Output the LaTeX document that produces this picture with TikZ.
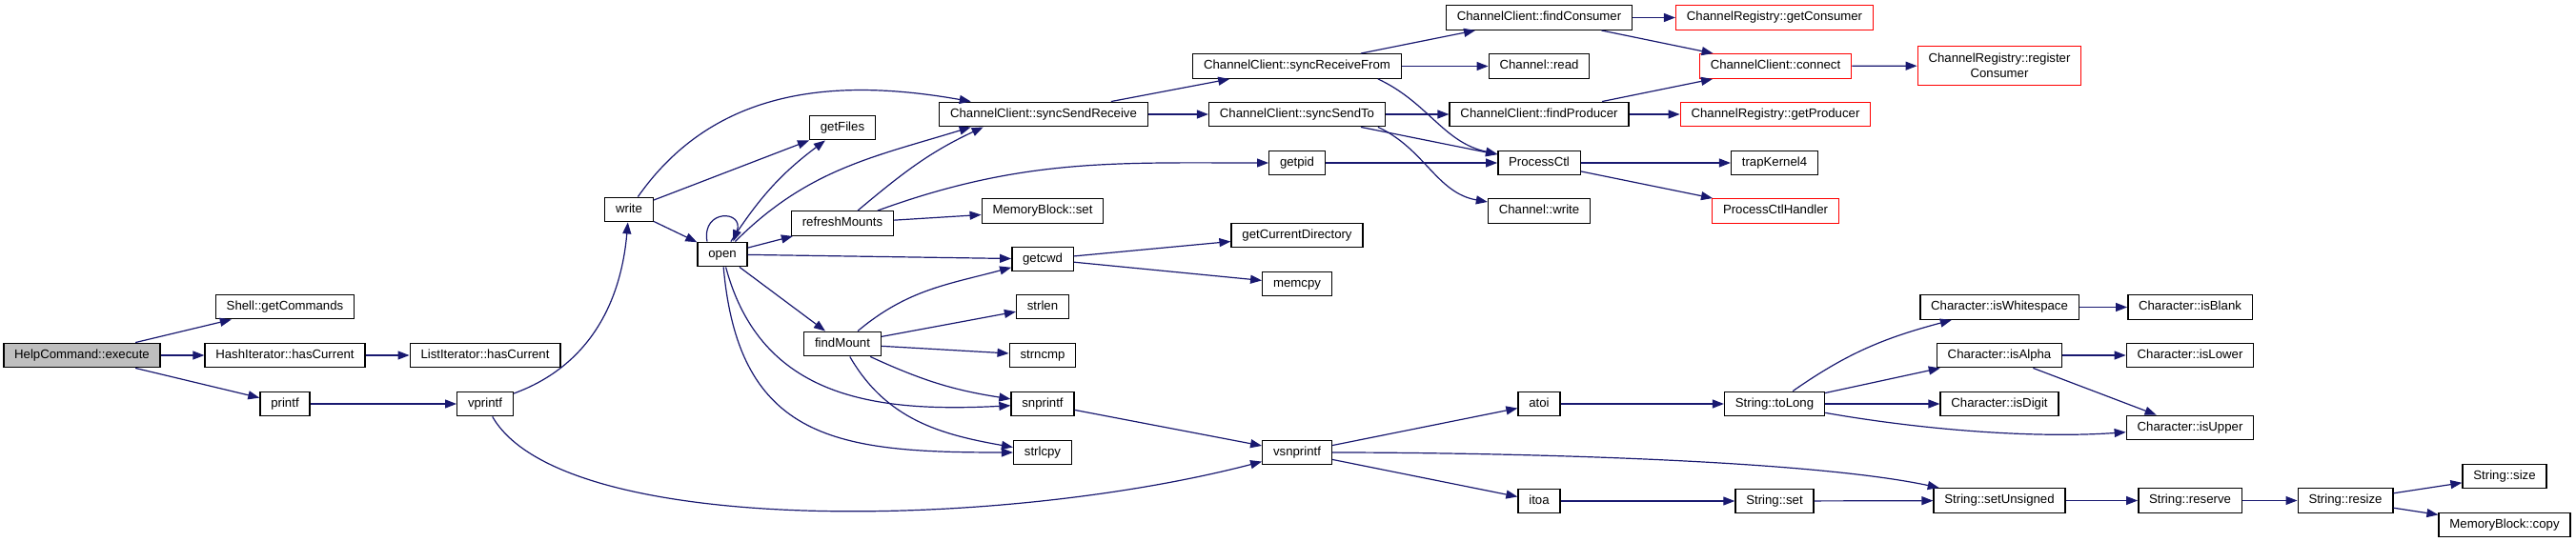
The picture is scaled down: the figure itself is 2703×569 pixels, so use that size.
\documentclass[tikz,border=0pt]{standalone}
\usepackage{fontspec}
\setmainfont{Liberation Sans}
\usetikzlibrary{arrows.meta}
\usepackage{xcolor}
\definecolor{doxyEdge}{HTML}{191970}
\definecolor{doxyRoot}{HTML}{BFBFBF}
\definecolor{doxyRed}{HTML}{FF0000}

\begin{document}
\begin{tikzpicture}[
    x=1pt, y=-1pt,
    ->, >={Triangle[length=12pt, width=9pt]},
    fn/.style={draw=black, line width=1.4pt, fill=white, minimum height=25.5pt,
        inner xsep=11.3pt, inner ysep=6pt, text height=9.5pt, text depth=2.8pt,
        font=\fontsize{13.2}{15.5}\selectfont},
    ext/.style={fn, draw=doxyRed},
    root/.style={fn, fill=doxyRoot},
    every edge/.style={draw=doxyEdge, line width=1.2pt}
]
    \useasboundingbox (0,0) rectangle (2703,569);

    % Caller and its first calls
    \node[root] (execFn) at (86,373) {HelpCommand::execute};
    \node[fn] (getCmds) at (299,322) {Shell::getCommands};
    \node[fn] (hashCur) at (299,373) {HashIterator::hasCurrent};
    \node[fn] (printfFn) at (299,424) {printf};
    \node[fn] (listCur) at (509,373) {ListIterator::hasCurrent};
    \node[fn] (vprintfFn) at (509,424) {vprintf};

    % File system calls
    \node[fn] (writeFn) at (660,220) {write};
    \node[fn] (openFn) at (758,267) {open};
    \node[fn] (getFiles) at (884,134) {getFiles};
    \node[fn] (refreshMounts) at (884,234.5) {refreshMounts};
    \node[fn] (findMount) at (884,361) {findMount};
    \node[fn] (sendRecv) at (1095,120) {ChannelClient::syncSendReceive};
    \node[fn] (memSet) at (1094,221.5) {MemoryBlock::set};
    \node[fn] (getcwdFn) at (1094,272) {getcwd};
    \node[fn] (strlenFn) at (1094,322) {strlen};
    \node[fn] (strncmpFn) at (1094,373) {strncmp};
    \node[fn] (snprintfFn) at (1094,424) {snprintf};
    \node[fn] (strlcpyFn) at (1094,475) {strlcpy};

    % Channel client and kernel
    \node[fn] (recvFrom) at (1361,69.5) {ChannelClient::syncReceiveFrom};
    \node[fn] (sendTo) at (1361,120) {ChannelClient::syncSendTo};
    \node[fn] (getpidFn) at (1361,171) {getpid};
    \node[fn] (curDir) at (1361,247) {getCurrentDirectory};
    \node[fn] (memcpyFn) at (1361,298) {memcpy};
    \node[fn] (vsnprintfFn) at (1361,475) {vsnprintf};
    \node[fn] (findCons) at (1615,18.5) {ChannelClient::findConsumer};
    \node[fn] (chRead) at (1615,69.5) {Channel::read};
    \node[fn] (findProd) at (1615,120) {ChannelClient::findProducer};
    \node[fn] (procCtl) at (1615,171) {ProcessCtl};
    \node[fn] (chWrite) at (1615,221.5) {Channel::write};
    \node[ext] (getCons) at (1862,18.5) {ChannelRegistry::getConsumer};
    \node[ext] (connectFn) at (1863,69.5) {ChannelClient::connect};
    \node[ext] (getProd) at (1863,120) {ChannelRegistry::getProducer};
    \node[fn] (trapKernel) at (1862,171) {trapKernel4};
    \node[ext] (procHandler) at (1863,221.5) {ProcessCtlHandler};
    \node[ext, align=center, text height=, text depth=, minimum height=41pt] (regCons) at (2098,69) {ChannelRegistry::register\\Consumer};

    % Number conversion and string helpers
    \node[fn] (atoiFn) at (1615,424) {atoi};
    \node[fn] (itoaFn) at (1615,526) {itoa};
    \node[fn] (toLong) at (1862,424) {String::toLong};
    \node[fn] (strSet) at (1862,526) {String::set};
    \node[fn] (isWhite) at (2098,322.5) {Character::isWhitespace};
    \node[fn] (isAlpha) at (2098,373) {Character::isAlpha};
    \node[fn] (isDigit) at (2098,424) {Character::isDigit};
    \node[fn] (setUnsigned) at (2098,525.5) {String::setUnsigned};
    \node[fn] (isBlank) at (2298,322.5) {Character::isBlank};
    \node[fn] (isLower) at (2298,373) {Character::isLower};
    \node[fn] (isUpper) at (2298,449) {Character::isUpper};
    \node[fn] (reserveFn) at (2298,525.5) {String::reserve};
    \node[fn] (resizeFn) at (2461,525.5) {String::resize};
    \node[fn] (sizeFn) at (2628,500) {String::size};
    \node[fn] (blockCopy) at (2628,551) {MemoryBlock::copy};

    % Calls from execute
    \path (execFn) edge (getCmds)
          (execFn) edge (hashCur)
          (execFn) edge (printfFn)
          (hashCur) edge (listCur)
          (printfFn) edge (vprintfFn)
          (vprintfFn) edge[out=20, in=-95] (writeFn);
    \draw[doxyEdge, line width=1.2pt] (vprintfFn) .. controls (590,565) and (1050,556) .. (vsnprintfFn);

    % Calls from write and open
    \path (writeFn) edge[out=55, in=170] (sendRecv)
          (writeFn) edge (getFiles)
          (writeFn) edge (openFn)
          (openFn.140) edge[out=100, in=70, looseness=3.3] (openFn.50)
          (openFn) edge[bend left=10] (getFiles)
          (openFn) edge[out=45, in=197] (sendRecv.-170)
          (openFn) edge (refreshMounts)
          (openFn) edge (getcwdFn)
          (openFn) edge (findMount)
          (openFn) edge[out=-75, in=183, looseness=1.1] (snprintfFn)
          (openFn) edge[out=-85, in=180, looseness=1.3] (strlcpyFn);

    % Calls from refreshMounts, findMount and friends
    \path (refreshMounts) edge (memSet)
          (refreshMounts) edge[out=40, in=205] (sendRecv.-168)
          (refreshMounts) edge[out=20, in=180] (getpidFn)
          (findMount) edge[out=40, in=195] (getcwdFn)
          (findMount) edge (strlenFn)
          (findMount) edge (strncmpFn)
          (findMount) edge[bend right=8] (snprintfFn)
          (findMount) edge[out=-60, in=170] (strlcpyFn)
          (getcwdFn) edge (curDir)
          (getcwdFn) edge (memcpyFn)
          (snprintfFn) edge (vsnprintfFn);

    % Channel client calls
    \path (sendRecv) edge (recvFrom)
          (sendRecv) edge (sendTo)
          (recvFrom) edge (findCons)
          (recvFrom) edge (chRead)
          (recvFrom.-9) edge[out=-25, in=168] (procCtl)
          (sendTo) edge (findProd)
          (sendTo) edge (procCtl)
          (sendTo.-9) edge[out=-25, in=170] (chWrite)
          (getpidFn) edge (procCtl)
          (findCons) edge (getCons)
          (findCons) edge (connectFn)
          (findProd) edge (connectFn)
          (findProd) edge (getProd)
          (connectFn) edge (regCons)
          (procCtl) edge (trapKernel)
          (procCtl) edge (procHandler);

    % Number and string calls
    \path (vsnprintfFn) edge (atoiFn)
          (vsnprintfFn) edge[out=0, in=168, looseness=0.6] (setUnsigned)
          (vsnprintfFn) edge (itoaFn)
          (atoiFn) edge (toLong)
          (itoaFn) edge (strSet)
          (strSet) edge (setUnsigned)
          (toLong) edge[out=35, in=195] (isWhite)
          (toLong) edge (isAlpha)
          (toLong) edge (isDigit)
          (toLong) edge[out=-10, in=184, looseness=0.8] (isUpper)
          (isWhite) edge (isBlank)
          (isAlpha) edge (isLower)
          (isAlpha) edge (isUpper)
          (setUnsigned) edge (reserveFn)
          (reserveFn) edge (resizeFn)
          (resizeFn) edge (sizeFn)
          (resizeFn) edge (blockCopy);
\end{tikzpicture}
\end{document}
